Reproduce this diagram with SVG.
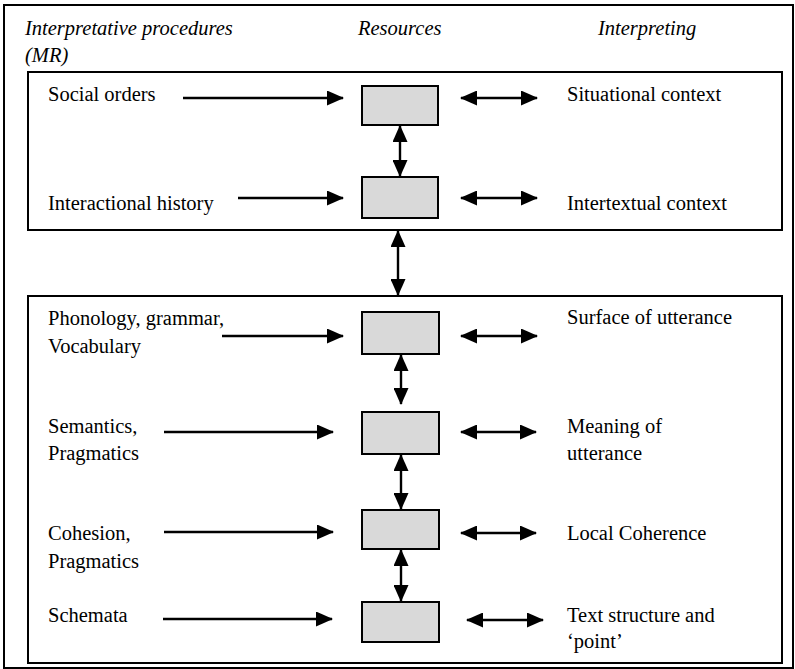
<svg xmlns="http://www.w3.org/2000/svg" width="795" height="669" viewBox="0 0 795 669">
<defs>
<style>
text{font-family:'Liberation Serif','Times New Roman',Tinos,'DejaVu Serif',serif;font-size:20.5px;fill:#000}
.h{font-style:italic}
.frame{fill:none;stroke:#000;stroke-width:2}
.res{fill:#d9d9d9;stroke:#000;stroke-width:2}
.c{stroke:#000;stroke-width:2.4;fill:none}
</style>
<marker id="ah" markerUnits="userSpaceOnUse" markerWidth="17" markerHeight="15" refX="16" refY="7.5" orient="auto-start-reverse" viewBox="0 0 17 15">
<path d="M0,0 L17,7.5 L0,15 Z" fill="#000"/>
</marker>
</defs>
<rect width="795" height="669" fill="#fff"/>
<rect id="outer" class="frame" x="4" y="5" width="789" height="663"/>
<g id="headers">
<text class="h" x="25" y="35">Interpretative procedures</text>
<text class="h" x="25" y="62">(MR)</text>
<text class="h" x="358" y="35">Resources</text>
<text class="h" x="598" y="35">Interpreting</text>
</g>
<rect id="upper" class="frame" x="28" y="72" width="754" height="158"/>
<rect id="lower" class="frame" x="28" y="296" width="754" height="367"/>
<g id="r1"><rect class="res" x="362" y="86" width="76" height="39"/></g>
<g id="r2"><rect class="res" x="362" y="177" width="76" height="41"/></g>
<g id="r3"><rect class="res" x="362" y="312" width="77" height="42"/></g>
<g id="r4"><rect class="res" x="362" y="412" width="77" height="42"/></g>
<g id="r5"><rect class="res" x="362" y="510" width="77" height="39"/></g>
<g id="r6"><rect class="res" x="362" y="602" width="77" height="40"/></g>
<g id="left-labels">
<text x="48" y="101">Social orders</text>
<text x="48" y="210">Interactional history</text>
<text x="48" y="325">Phonology, grammar,</text>
<text x="48" y="353">Vocabulary</text>
<text x="48" y="433">Semantics,</text>
<text x="48" y="460">Pragmatics</text>
<text x="48" y="540">Cohesion,</text>
<text x="48" y="568">Pragmatics</text>
<text x="48" y="622">Schemata</text>
</g>
<g id="right-labels">
<text x="567" y="101">Situational context</text>
<text x="567" y="210">Intertextual context</text>
<text x="567" y="324">Surface of utterance</text>
<text x="567" y="433">Meaning of</text>
<text x="567" y="460">utterance</text>
<text x="567" y="540">Local Coherence</text>
<text x="567" y="622">Text structure and</text>
<text x="567" y="648">‘point’</text>
</g>
<g id="connectors">
<path class="c" marker-end="url(#ah)" d="M183,98 H343"/>
<path class="c" marker-end="url(#ah)" d="M238,198 H343"/>
<path class="c" marker-end="url(#ah)" d="M222,336 H343"/>
<path class="c" marker-end="url(#ah)" d="M164,432 H333"/>
<path class="c" marker-end="url(#ah)" d="M164,532 H333"/>
<path class="c" marker-end="url(#ah)" d="M163,619 H332"/>
<path class="c" marker-start="url(#ah)" marker-end="url(#ah)" d="M461,98 H537"/>
<path class="c" marker-start="url(#ah)" marker-end="url(#ah)" d="M461,198 H537"/>
<path class="c" marker-start="url(#ah)" marker-end="url(#ah)" d="M461,336 H537"/>
<path class="c" marker-start="url(#ah)" marker-end="url(#ah)" d="M461,432 H536"/>
<path class="c" marker-start="url(#ah)" marker-end="url(#ah)" d="M461,533 H536"/>
<path class="c" marker-start="url(#ah)" marker-end="url(#ah)" d="M467,620 H543"/>
<path class="c" marker-start="url(#ah)" marker-end="url(#ah)" d="M400,126 V176"/>
<path class="c" marker-start="url(#ah)" marker-end="url(#ah)" d="M398,231 V295"/>
<path class="c" marker-start="url(#ah)" marker-end="url(#ah)" d="M401,355 V404"/>
<path class="c" marker-start="url(#ah)" marker-end="url(#ah)" d="M401,455 V509"/>
<path class="c" marker-start="url(#ah)" marker-end="url(#ah)" d="M401,550 V601"/>
</g>
</svg>
